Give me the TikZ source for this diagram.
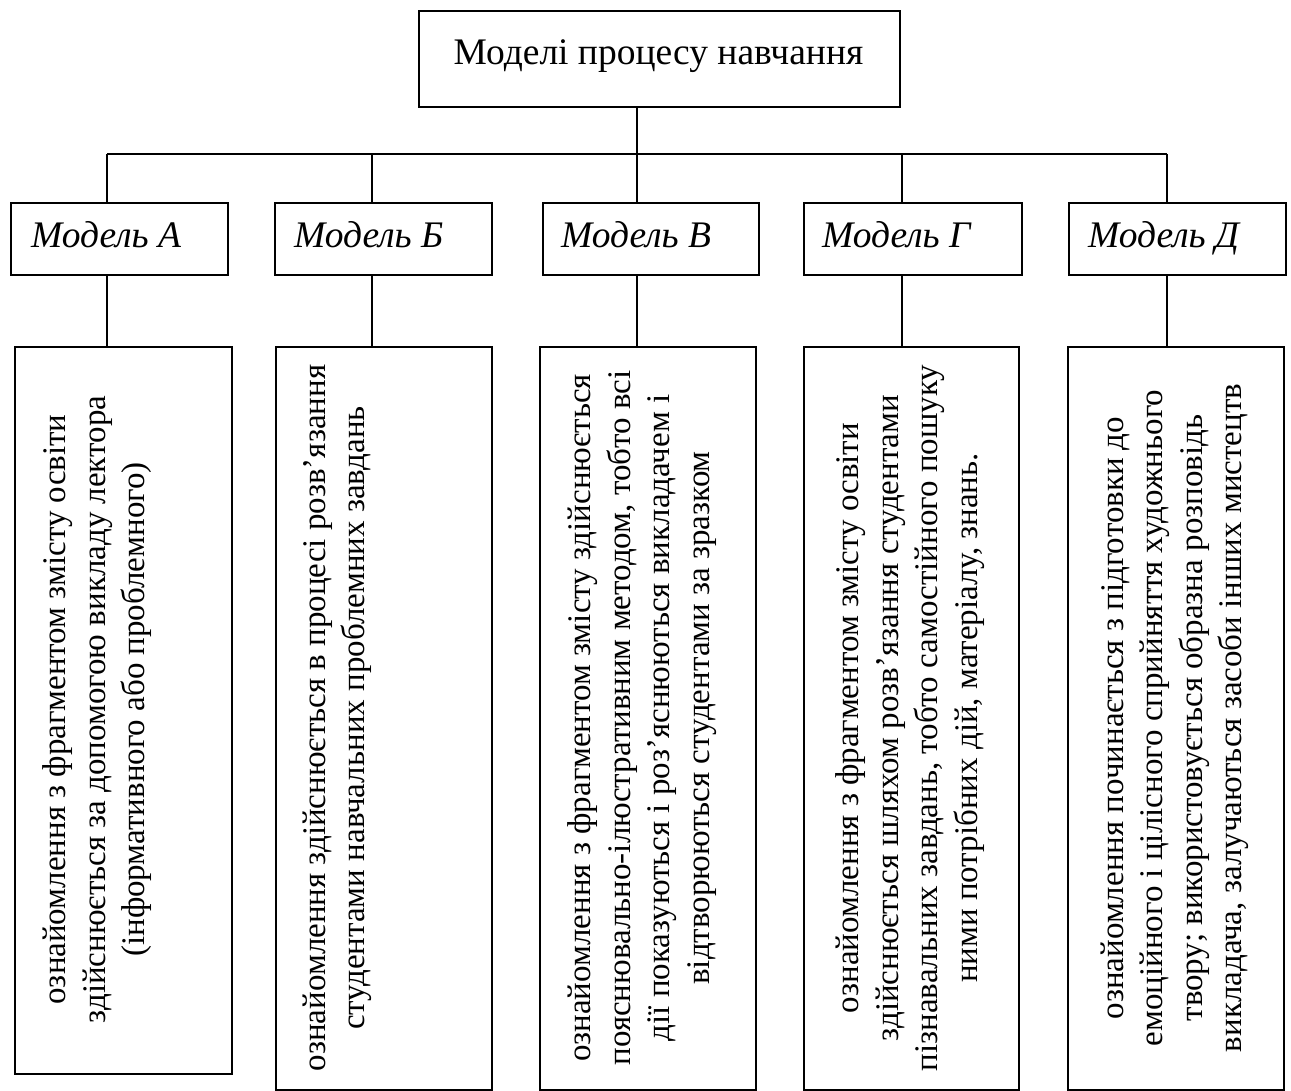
\documentclass[tikz,border=0pt]{standalone}
\usepackage{fontspec}
\setmainfont{Liberation Serif}
\begin{document}
\begin{tikzpicture}[x=1pt,y=-1pt,
  frame/.style={draw=black,line width=1.6pt,rectangle,inner sep=0pt,anchor=north west},
  conn/.style={draw=black,line width=1.3pt},
  mlabel/.style={font=\fontsize{37.5}{42}\selectfont\itshape,anchor=base west,inner sep=0pt},
  desc/.style={font=\fontsize{33}{39.5}\selectfont,rotate=90,align=center,inner sep=0pt,anchor=center}]
\useasboundingbox (0,0) rectangle (1291,1091);
% top
\node[frame,minimum width=481pt,minimum height=96pt] (top) at (418,10) {};
\node[font=\fontsize{37.5}{42}\selectfont,anchor=base,inner sep=0pt] (toptext) at (658.5,65) {Моделі процесу навчання};
% model boxes
\node[frame,minimum width=217pt,minimum height=72pt] (mA) at (10,202) {};
\node[frame,minimum width=217pt,minimum height=72pt] (mB) at (274,202) {};
\node[frame,minimum width=216pt,minimum height=72pt] (mC) at (542,202) {};
\node[frame,minimum width=218pt,minimum height=72pt] (mD) at (803,202) {};
\node[frame,minimum width=217pt,minimum height=72pt] (mE) at (1068,202) {};
\node[mlabel] (lA) at (31,248) {Модель А};
\node[mlabel] (lB) at (294,248) {Модель Б};
\node[mlabel] (lC) at (561,248) {Модель В};
\node[mlabel] (lD) at (822,248) {Модель Г};
\node[mlabel] (lE) at (1088,248) {Модель Д};
% description boxes
\node[frame,minimum width=217pt,minimum height=727pt] (dA) at (14,346) {};
\node[frame,minimum width=216pt,minimum height=743pt] (dB) at (275,346) {};
\node[frame,minimum width=216pt,minimum height=743pt] (dC) at (539,346) {};
\node[frame,minimum width=215pt,minimum height=743pt] (dD) at (803,346) {};
\node[frame,minimum width=216pt,minimum height=743pt] (dE) at (1067,346) {};
\node[desc] (tA) at (97.5,709.5) {ознайомлення з фрагментом змісту освіти\\здійснюється за допомогою викладу лектора\\(інформативного або проблемного)};
\node[desc] (tB) at (337.5,718) {ознайомлення здійснюється в процесі розв'язання\\студентами навчальних проблемних завдань};
\node[desc] (tC) at (642,718) {ознайомлення з фрагментом змісту здійснюється\\пояснювально-ілюстративним методом, тобто всі\\дії показуються і роз'яснюються викладачем і\\відтворюються студентами за зразком};
\node[desc] (tD) at (910,718) {ознайомлення з фрагментом змісту освіти\\здійснюється шляхом розв'язання студентами\\пізнавальних завдань, тобто самостійного пошуку\\ними потрібних дій, матеріалу, знань.};
\node[desc] (tE) at (1175,718) {ознайомлення починається з підготовки до\\емоційного і цілісного сприйняття художнього\\твору; використовується образна розповідь\\викладача, залучаються засоби інших мистецтв};
% connectors
\coordinate (bA) at (107,154);
\coordinate (bB) at (372,154);
\coordinate (bC) at (637,154);
\coordinate (bD) at (902,154);
\coordinate (bE) at (1167,154);
\draw[conn] (top.south -| bC) -- (bC);
\draw[conn] (bA) -- (bE);
\foreach \i/\m/\d in {bA/mA/dA,bB/mB/dB,bC/mC/dC,bD/mD/dD,bE/mE/dE}{
  \draw[conn] (\i) -- (\i |- \m.north);
  \draw[conn] (\m.south -| \i) -- (\i |- \d.north);
}
\end{tikzpicture}
\end{document}
